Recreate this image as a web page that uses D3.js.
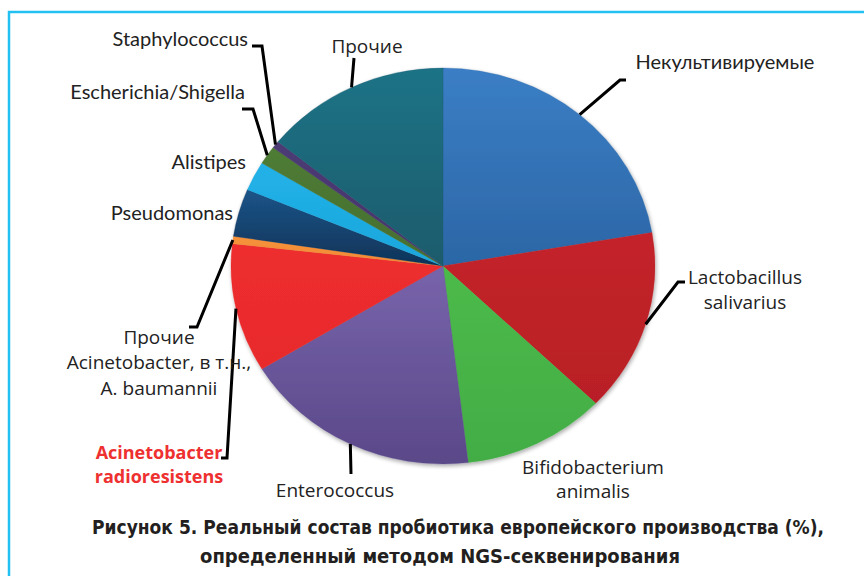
<!DOCTYPE html>
<html><head><meta charset="utf-8">
<script src="https://cdn.jsdelivr.net/npm/d3@7"></script>
<style>
html,body{margin:0;padding:0;background:#fff;}
svg{display:block;}
</style></head>
<body>
<script>
// ---- data ----
const categories = ["Некультивируемые","Lactobacillus salivarius","Bifidobacterium animalis","Enterococcus",
  "Acinetobacter radioresistens","Прочие Acinetobacter, в т.н., A. baumannii","Pseudomonas","Alistipes",
  "Escherichia/Shigella","Staphylococcus","Прочие"];
const values = [22.3, 14.9, 10.9, 18.2, 10.5, 0.6, 3.9, 2.4, 1.5, 0.6, 14.2];
const colorsTop = ["#3b7ec5","#c4242a","#4cba4a","#7864ab","#ee2e2e","#f6923c","#1c5488","#22b2e8","#4f7c36","#4d3b75","#1b7386"];
const colorsBot = ["#2b66a6","#b81f25","#42ad45","#5a4889","#e82a2c","#f28a34","#0f3358","#1aa6dc","#456e2e","#45346a","#1a5b6c"];
const labelLines = [
  ["Некультивируемые"],["Lactobacillus","salivarius"],["Bifidobacterium","animalis"],["Enterococcus"],
  ["Acinetobacter","radioresistens"],["Прочие","Acinetobacter, в т.н.,","A. baumannii"],["Pseudomonas"],
  ["Alistipes"],["Escherichia/Shigella"],["Staphylococcus"],["Прочие"]];
const captionLines = ["Рисунок 5. Реальный состав пробиотика европейского производства (%),",
  "определенный методом NGS-секвенирования"];

// ---- layout ----
const W = 864, H = 576;
const cx = 443, cy = 266, R = 200, sx = 212/200, sy = 198/200;
const geo = "'Open Sans', 'Noto Sans', sans-serif";
const hum = "Lato, 'Liberation Sans', sans-serif";
const labelLayout = [
  {x:725, y:62, anchor:"middle", font:hum, size:20, elbow:[620,80], end:[626,80]},
  {x:745, y:277, anchor:"middle", font:geo, size:19, lh:25, elbow:[678,282], end:[685,282]},
  {x:593, y:467, anchor:"middle", font:geo, size:19, lh:24},
  {x:335, y:490, anchor:"middle", font:geo, size:19, elbow:[351,474]},
  {x:159, y:453, anchor:"middle", font:geo, size:18, lh:24, bold:true, fill:"#ee3030", elbow:[227,458], end:[221,458]},
  {x:159, y:337, anchor:"middle", font:geo, size:19, lh:25.5, elbow:[197,327], end:[189,327]},
  {x:233, y:213, anchor:"end", font:hum, size:20},
  {x:246, y:162, anchor:"end", font:hum, size:20},
  {x:245, y:92, anchor:"end", font:hum, size:20, elbow:[253,109], end:[242,109]},
  {x:248, y:39, anchor:"end", font:hum, size:20, elbow:[262,46], end:[252,46]},
  {x:367, y:46, anchor:"middle", font:geo, size:19, elbow:[354,58]}
];

const svg = d3.select("body").append("svg").attr("width", W).attr("height", H);
const defs = svg.append("defs");

svg.append("path").attr("d", `M9,${H} L9,12 L${W},12`).attr("fill","none")
  .attr("stroke","#22c1f1").attr("stroke-width",2.5);

values.forEach((v,i)=>{
  const g = defs.append("linearGradient").attr("id","g"+i).attr("x1",0).attr("y1",0).attr("x2",0).attr("y2",1);
  g.append("stop").attr("offset","0%").attr("stop-color",colorsTop[i]);
  g.append("stop").attr("offset","100%").attr("stop-color",colorsBot[i]);
});
const f = defs.append("filter").attr("id","sh").attr("x","-10%").attr("y","-10%").attr("width","120%").attr("height","120%");
f.append("feGaussianBlur").attr("in","SourceAlpha").attr("stdDeviation",2).attr("result","b");
f.append("feOffset").attr("in","b").attr("dx",1).attr("dy",2).attr("result","o");
f.append("feComponentTransfer").attr("in","o").attr("result","o2").append("feFuncA").attr("type","linear").attr("slope",0.35);
const fm = f.append("feMerge"); fm.append("feMergeNode").attr("in","o2"); fm.append("feMergeNode").attr("in","SourceGraphic");

const pie = d3.pie().sort(null).value(d=>d);
const arcs = pie(values);
const arc = d3.arc().innerRadius(0).outerRadius(R);

const pg = svg.append("g").attr("transform",`translate(${cx},${cy}) scale(${sx},${sy})`).attr("filter","url(#sh)");
pg.selectAll("path").data(arcs).join("path")
  .attr("d", arc)
  .attr("fill",(d,i)=>`url(#g${i})`)
  .attr("stroke",(d,i)=>colorsBot[i]).attr("stroke-width",0.3);

arcs.forEach((a,i)=>{
  const L = labelLayout[i];
  if(!L.elbow) return;
  const m = (a.startAngle + a.endAngle)/2;
  const p0 = [cx + R*sx*Math.sin(m), cy - R*sy*Math.cos(m)];
  const pts = [p0, L.elbow];
  if (L.end) pts.push(L.end);
  svg.append("path").attr("d", d3.line()(pts)).attr("fill","none")
    .attr("stroke","#000").attr("stroke-width",3).attr("stroke-linejoin","miter");
});

labelLines.forEach((lines,i)=>{
  const L = labelLayout[i];
  const t = svg.append("text").attr("text-anchor",L.anchor)
    .attr("font-family",L.font).attr("font-size",L.size)
    .attr("font-weight",L.bold?"700":"400").attr("fill",L.fill||"#222");
  lines.forEach((s,j)=>{
    t.append("tspan").attr("x",L.x).attr("y",L.y + j*(L.lh||24)).attr("dy","0.35em").text(s);
  });
});

// caption
const capLayout = [{x:92, y:527, len:732}, {x:200, y:556, len:480}];
captionLines.forEach((s,j)=>{
  svg.append("text").attr("x",capLayout[j].x).attr("y",capLayout[j].y).attr("dy","0.35em")
    .attr("text-anchor","start").attr("font-family","'DejaVu Sans Condensed','DejaVu Sans',sans-serif")
    .attr("font-stretch","condensed")
    .attr("textLength",capLayout[j].len).attr("lengthAdjust","spacingAndGlyphs")
    .attr("font-weight","700").attr("font-size",20).attr("fill","#231f20").text(s);
});
</script>
</body></html>
